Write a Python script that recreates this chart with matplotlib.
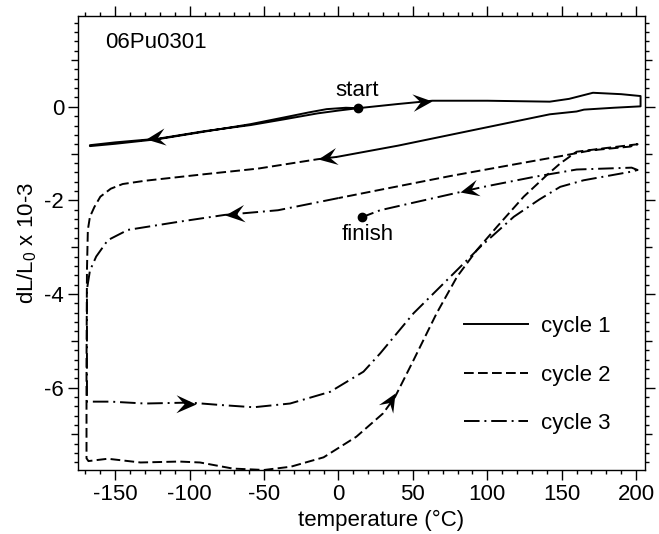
import numpy as np
import matplotlib
matplotlib.use("Agg")
from matplotlib import pyplot as plt
from matplotlib.path import Path
from matplotlib.ticker import MultipleLocator

plt.rcParams['font.family'] = ['Liberation Sans', 'DejaVu Sans']
plt.rcParams['mathtext.fontset'] = 'custom'
plt.rcParams['mathtext.rm'] = 'Liberation Sans'
plt.rcParams['mathtext.it'] = 'Liberation Sans:italic'
plt.rcParams['axes.unicode_minus'] = False

# cycle 1 (solid): start -> cool -> heat to 200 -> cool back
cycle1_x = [13, 0, -14, -37, -59, -90, -121, -150, -167,
            -167, -150, -121, -90, -59, -37, -20, -8, 5, 13,
            40, 63, 100, 142, 155, 171, 190, 203,
            203, 185, 165, 160, 142, 110, 75, 40, -1]
cycle1_y = [-0.03, -0.08, -0.14, -0.27, -0.39, -0.52, -0.68, -0.76, -0.82,
            -0.84, -0.79, -0.69, -0.53, -0.37, -0.23, -0.12, -0.05, -0.02, -0.03,
            0.06, 0.13, 0.13, 0.11, 0.17, 0.30, 0.27, 0.23,
            0.01, -0.02, -0.06, -0.10, -0.16, -0.37, -0.60, -0.83, -1.07]

# cycle 2 (dashed)
cycle2_x = [-1, -14, -54, -90, -130, -145, -153, -160, -164, -167, -168.4,
            -169, -169.3, -169.3, -168, -155, -133, -107, -93, -71, -50,
            -32, -10, 12, 30, 38, 50.5, 66, 79.7, 93, 106.6, 124.5, 140,
            149, 160, 180, 201, 196, 170, 150, 120, 75, 27, 0]
cycle2_y = [-1.07, -1.12, -1.32, -1.44, -1.58, -1.65, -1.75, -1.92, -2.14, -2.35, -2.63,
            -3.5, -5.5, -7.51, -7.57, -7.52, -7.60, -7.58, -7.60, -7.73, -7.76,
            -7.69, -7.49, -7.05, -6.55, -6.2, -5.41, -4.41, -3.63, -3.06, -2.56, -1.92, -1.46,
            -1.21, -0.96, -0.88, -0.80, -0.85, -0.93, -1.05, -1.22, -1.48, -1.78, -1.95]

# cycle 3 (dash-dot) -> finish
cycle3_x = [0, -40.6, -76.5, -108, -141.5, -155, -162.8, -167, -169, -169,
            -153, -130, -100, -80, -57, -32.5, -5.6, 16.8, 28, 50.5, 73,
            95.4, 117.8, 135, 149, 164.7, 196, 201, 197, 160, 131, 97.6,
            82, 28, 15.7]
cycle3_y = [-1.95, -2.21, -2.31, -2.46, -2.63, -2.85, -3.2, -3.5, -3.9, -6.3,
            -6.30, -6.34, -6.32, -6.37, -6.42, -6.34, -6.09, -5.66, -5.27, -4.41, -3.70,
            -2.99, -2.35, -1.98, -1.71, -1.57, -1.39, -1.35, -1.30, -1.34, -1.50, -1.71,
            -1.82, -2.21, -2.36]

# arrow heads: tip and a point behind it on the curve
arrow_tip_x = [-129, 62.8, -13.6, -76.5, -95.5, 38, 82]
arrow_tip_y = [-0.68, 0.13, -1.12, -2.31, -6.34, -6.12, -1.82]
arrow_back_x = [-100, 40, 10, -50, -120, 30, 100]
arrow_back_y = [-0.56, 0.07, -1.0, -2.23, -6.33, -6.55, -1.68]

start_xy = (12.8, -0.03)
finish_xy = (15.7, -2.36)

fs = 16

fig = plt.figure(figsize=(6.59, 5.34), dpi=100)
ax = fig.add_axes([0.1184, 0.1199, 0.8604, 0.8501])
ax.set_xlim(-175, 206)
ax.set_ylim(-7.76, 1.94)

lw = 1.4
ax.plot(cycle1_x, cycle1_y, color='k', lw=lw, label='cycle 1')
ax.plot(cycle2_x, cycle2_y, color='k', lw=lw, dashes=(5, 2.2), label='cycle 2')
ax.plot(cycle3_x, cycle3_y, color='k', lw=lw, dashes=(8, 2.5, 1, 2.5), label='cycle 3')

# arrow head markers (tip at origin), rotated to follow the curve
head = np.array([[0, 0], [-1, 0.45], [-0.6, 0], [-1, -0.45], [0, 0]])
codes = [Path.MOVETO, Path.LINETO, Path.LINETO, Path.LINETO, Path.CLOSEPOLY]
for tx, ty, bx, by in zip(arrow_tip_x, arrow_tip_y, arrow_back_x, arrow_back_y):
    p = ax.transData.transform([[bx, by], [tx, ty]])
    ang = np.arctan2(p[1, 1] - p[0, 1], p[1, 0] - p[0, 0])
    rot = np.array([[np.cos(ang), -np.sin(ang)], [np.sin(ang), np.cos(ang)]])
    verts = head @ rot.T
    ax.plot(tx, ty, marker=Path(verts, codes), markersize=29, color='k',
            markeredgewidth=0, linestyle='none')

ax.plot(*start_xy, 'o', color='k', markersize=6)
ax.plot(*finish_xy, 'o', color='k', markersize=6)
ax.text(start_xy[0], start_xy[1] + 0.16, 'start', ha='center', va='bottom', fontsize=fs)
ax.text(finish_xy[0] + 4, finish_xy[1] - 0.14, 'finish', ha='center', va='top', fontsize=fs)
ax.text(-157, 1.38, '06Pu0301', ha='left', va='center', fontsize=fs)

ax.set_xlabel('temperature (°C)', fontsize=fs)
ax.set_ylabel('dL/L$_0$ x 10-3', fontsize=fs)
ax.xaxis.set_label_coords(0.534, -0.088)
ax.yaxis.set_label_coords(-0.069, 0.5)

ax.xaxis.set_major_locator(MultipleLocator(50))
ax.xaxis.set_minor_locator(MultipleLocator(10))
ax.yaxis.set_major_locator(MultipleLocator(2))
ax.yaxis.set_minor_locator(MultipleLocator(0.2))
ax.tick_params(which='both', direction='out', top=True, right=True, width=1.0,
               labelsize=fs)
ax.tick_params(which='major', length=7, pad=3)
ax.tick_params(which='minor', length=3)
for s in ax.spines.values():
    s.set_linewidth(1.0)

# medium ticks at odd integers on y
fig.canvas.draw()
for t in ax.yaxis.get_minor_ticks():
    v = t.get_loc()
    if abs(v - round(v)) < 1e-6 and int(round(v)) % 2 != 0:
        t.tick1line.set_markersize(5)
        t.tick2line.set_markersize(5)

ax.legend(loc='center left', bbox_to_anchor=(0.645, 0.209), frameon=False,
          fontsize=fs, handlelength=2.9, handletextpad=0.59, labelspacing=1.24)

fig.savefig('out.png', dpi=100)
